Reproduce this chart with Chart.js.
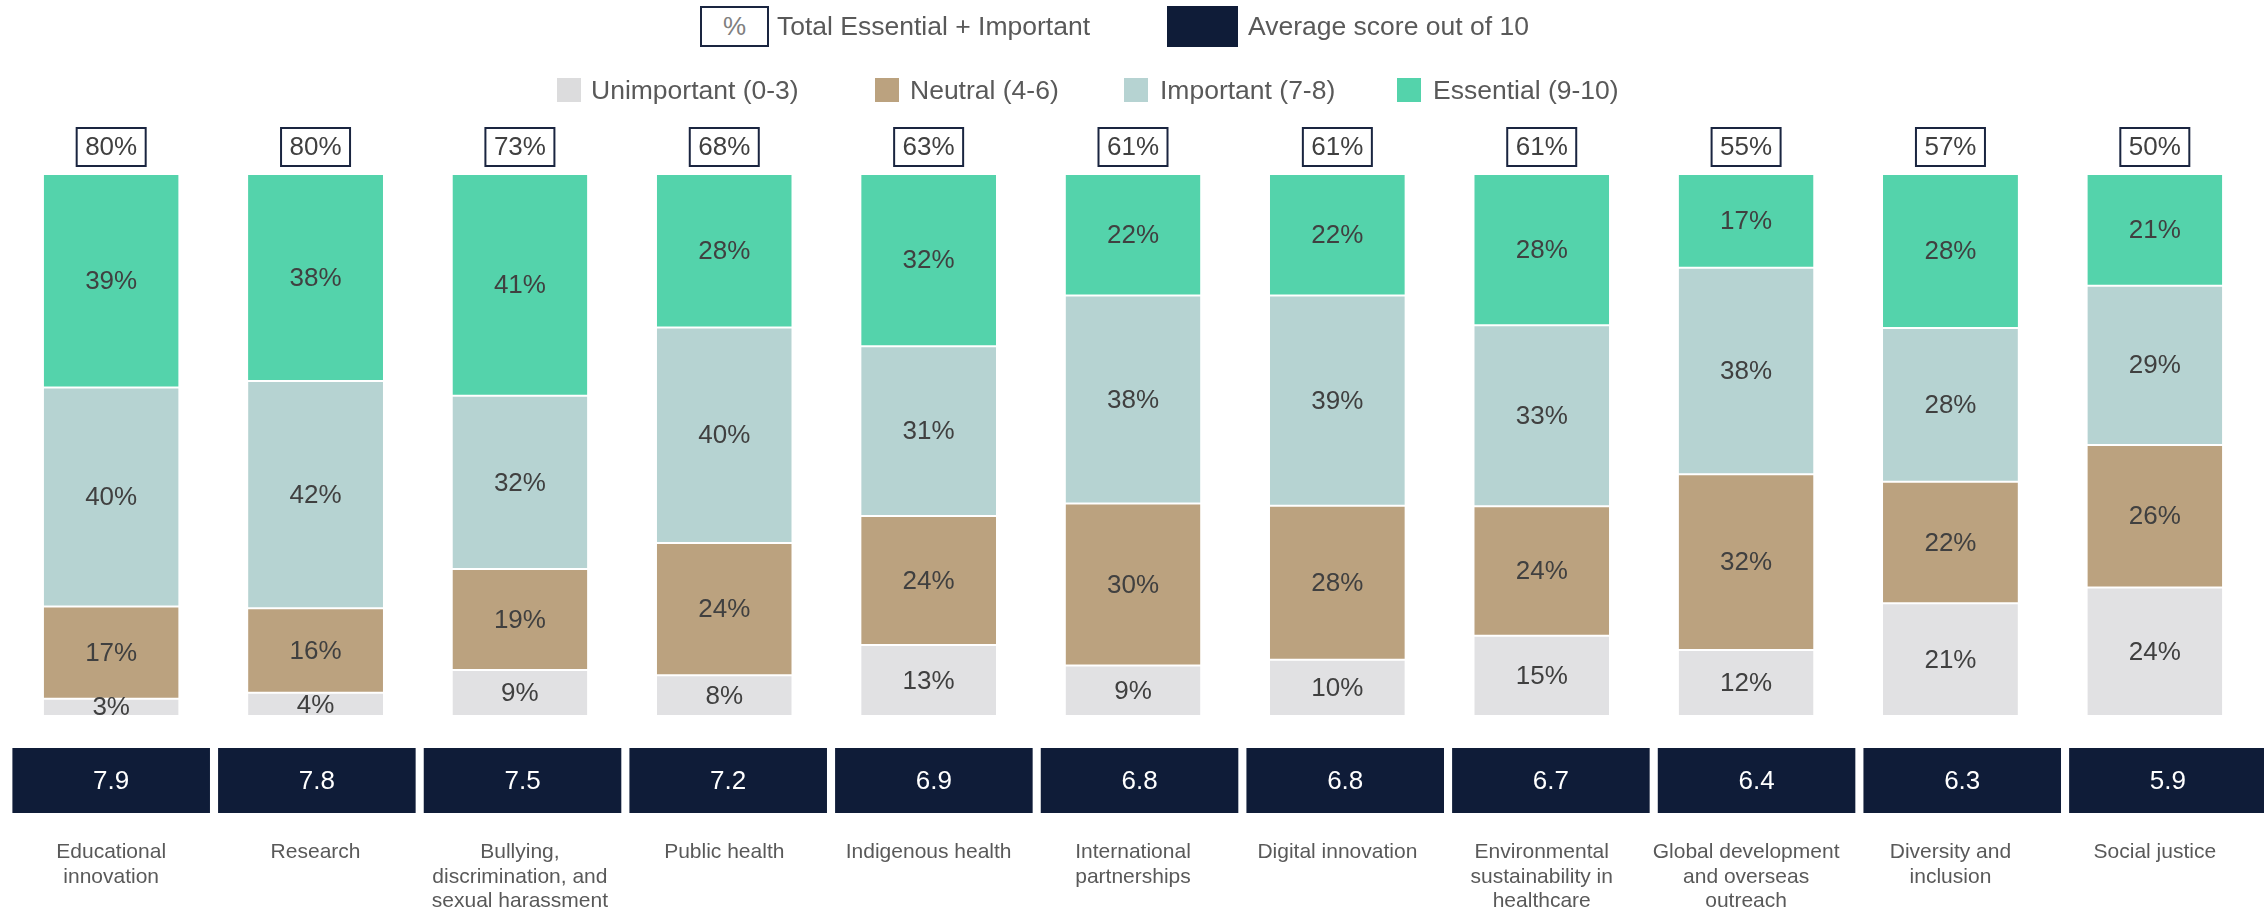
<!DOCTYPE html>
<html>
<head>
<meta charset="utf-8">
<script src="https://cdn.jsdelivr.net/npm/chart.js@4.4.1/dist/chart.umd.min.js"></script>
<style>
  html, body { margin: 0; padding: 0; background: #ffffff; }
  #wrap { position: relative; width: 2264px; height: 911px; overflow: hidden; font-family: "Liberation Sans", Arial, sans-serif; }
  #c { position: absolute; left: 0; top: 0; }
  .lg { position: absolute; font-size: 26.5px; color: #595959; line-height: 30px; white-space: nowrap; }
  .box { position: absolute; box-sizing: border-box; }
</style>
</head>
<body>
<div id="wrap">
  <canvas id="c" width="2264" height="911"></canvas>
  <div class="box" style="left:700px;top:6px;width:69px;height:41px;border:2px solid #1a2540;background:#fff;text-align:center;font-size:26px;line-height:37px;color:#808080;">%</div>
  <div class="lg" style="left:777px;top:11px;">Total Essential + Important</div>
  <div class="box" style="left:1167px;top:6px;width:71px;height:41px;background:#0f1c38;"></div>
  <div class="lg" style="left:1248px;top:11px;">Average score out of 10</div>

  <div class="box" style="left:557px;top:78px;width:24px;height:24px;background:#dcdcdd;"></div>
  <div class="lg" style="left:591px;top:75px;">Unimportant (0-3)</div>
  <div class="box" style="left:875px;top:78px;width:24px;height:24px;background:#bba27f;"></div>
  <div class="lg" style="left:910px;top:75px;">Neutral (4-6)</div>
  <div class="box" style="left:1124px;top:78px;width:24px;height:24px;background:#b6d3d2;"></div>
  <div class="lg" style="left:1160px;top:75px;">Important (7-8)</div>
  <div class="box" style="left:1397px;top:78px;width:24px;height:24px;background:#54d3ab;"></div>
  <div class="lg" style="left:1433px;top:75px;">Essential (9-10)</div>
</div>
<script>
// ---- data ----
const categories = [
  ['Educational', 'innovation'],
  ['Research'],
  ['Bullying,', 'discrimination, and', 'sexual harassment'],
  ['Public health'],
  ['Indigenous health'],
  ['International', 'partnerships'],
  ['Digital innovation'],
  ['Environmental', 'sustainability in', 'healthcare'],
  ['Global development', 'and overseas', 'outreach'],
  ['Diversity and', 'inclusion'],
  ['Social justice']
];
const unimportant = [3.2, 4.3, 8.5, 7.5, 13.1, 9.3, 10.4, 14.8, 12.2, 20.8, 23.7];
const neutral     = [17.0, 15.6, 18.6, 24.4, 23.8, 29.9, 28.4, 23.9, 32.4, 22.4, 26.3];
const important   = [40.4, 41.9, 32.0, 39.8, 31.3, 38.4, 38.8, 33.4, 38.1, 28.4, 29.4];
const essential   = [39.4, 38.2, 40.9, 28.3, 31.8, 22.4, 22.4, 27.9, 17.3, 28.4, 20.6];
const totalEssentialImportant = [80, 80, 73, 68, 63, 61, 61, 61, 55, 57, 50];
const averageScores = ['7.9', '7.8', '7.5', '7.2', '6.9', '6.8', '6.8', '6.7', '6.4', '6.3', '5.9'];
const seriesNames = ['Unimportant (0-3)', 'Neutral (4-6)', 'Important (7-8)', 'Essential (9-10)'];

const FONT = '"Liberation Sans", Arial, sans-serif';
const NAVY = '#0f1c38';

const overlayPlugin = {
  id: 'overlay',
  afterDatasetsDraw(chart) {
    const ctx = chart.ctx;
    const area = chart.chartArea;
    const xs = chart.scales.x;
    ctx.save();
    ctx.font = '26px ' + FONT;
    ctx.fillStyle = '#404040';
    ctx.textAlign = 'center';
    ctx.textBaseline = 'middle';
    chart.data.datasets.forEach((ds, di) => {
      const meta = chart.getDatasetMeta(di);
      meta.data.forEach((bar, i) => {
        const v = ds.data[i];
        const yc = (bar.y + bar.base) / 2;
        ctx.fillText(Math.round(v) + '%', bar.x, yc + 1);
      });
    });
    const n = categories.length;
    const catW = (area.right - area.left) / n;
    const x0 = xs.getPixelForValue(0);
    for (let i = 0; i < n; i++) {
      const cx = xs.getPixelForValue(i);
      const bw = 71, bh = 40;
      const by = area.top - 47;
      ctx.fillStyle = '#ffffff';
      ctx.fillRect(cx - bw / 2, by, bw, bh);
      ctx.strokeStyle = '#1a2540';
      ctx.lineWidth = 2;
      ctx.strokeRect(cx - bw / 2 + 1, by + 1, bw - 2, bh - 2);
      ctx.fillStyle = '#404040';
      ctx.font = '26px ' + FONT;
      ctx.fillText(totalEssentialImportant[i] + '%', cx, by + bh / 2 + 1);
      // score row spans the full width, slightly wider pitch than the bars
      const bcx = x0 + (cx - x0) * 1.0064;
      const sw = catW - 6.8, sh = 65;
      const sy = area.bottom + 32;
      ctx.fillStyle = NAVY;
      ctx.fillRect(bcx - sw / 2, sy, sw, sh);
      ctx.fillStyle = '#ffffff';
      ctx.fillText(averageScores[i], bcx, sy + sh / 2 + 1);
    }
    ctx.restore();
  }
};

const colors = ['#e1e1e3', '#bba27f', '#b6d3d2', '#54d3ab'];
const series = [unimportant, neutral, important, essential];

new Chart(document.getElementById('c'), {
  type: 'bar',
  data: {
    labels: categories,
    datasets: series.map((d, k) => ({
      label: seriesNames[k],
      data: d,
      backgroundColor: colors[k],
      borderColor: '#ffffff',
      borderWidth: { top: 1, bottom: 1, left: 0, right: 0 },
      borderSkipped: false,
      barPercentage: 0.66,
      categoryPercentage: 1.0
    }))
  },
  options: {
    responsive: false,
    animation: false,
    devicePixelRatio: 1,
    layout: { padding: { left: 9, right: 7, top: 174, bottom: 0 } },
    plugins: { legend: { display: false }, tooltip: { enabled: false } },
    scales: {
      x: {
        stacked: true,
        grid: { display: false, drawTicks: true, tickLength: 122 },
        border: { display: false },
        ticks: {
          autoSkip: false,
          maxRotation: 0,
          minRotation: 0,
          padding: 2,
          color: '#595959',
          font: { family: FONT, size: 21, lineHeight: 1.1667 }
        },
        afterFit(scale) {
          scale.height = 195;
          scale.paddingLeft = 0;
          scale.paddingRight = 0;
        }
      },
      y: {
        stacked: true,
        display: false,
        min: 0,
        max: 100
      }
    }
  },
  plugins: [overlayPlugin]
});
</script>
</body>
</html>
